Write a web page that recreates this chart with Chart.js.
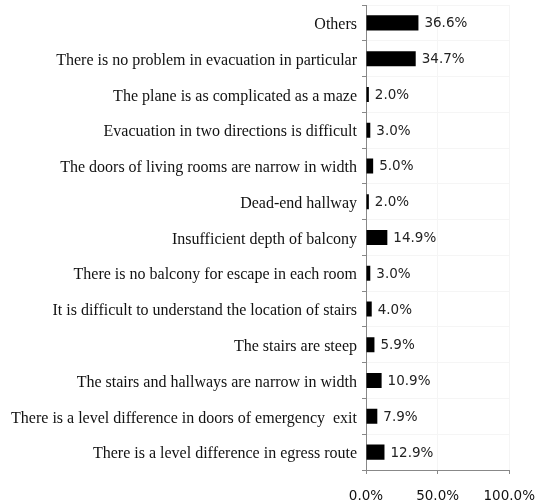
<!DOCTYPE html>
<html>
<head>
<meta charset="utf-8">
<script src="https://cdn.jsdelivr.net/npm/chart.js@4.4.0/dist/chart.umd.min.js"></script>
<style>
html,body{margin:0;padding:0;background:#fff;}
#wrap{width:549px;height:502px;position:relative;}
</style>
</head>
<body>
<div id="wrap"><canvas id="c" width="549" height="502"></canvas></div>
<script>
const categories = [
  "Others",
  "There is no problem in evacuation in particular",
  "The plane is as complicated as a maze",
  "Evacuation in two directions is difficult",
  "The doors of living rooms are narrow in width",
  "Dead-end hallway",
  "Insufficient depth of balcony",
  "There is no balcony for escape in each room",
  "It is difficult to understand the location of stairs",
  "The stairs are steep",
  "The stairs and hallways are narrow in width",
  "There is a level difference in doors of emergency  exit",
  "There is a level difference in egress route"
];
const values = [36.6, 34.7, 2.0, 3.0, 5.0, 2.0, 14.9, 3.0, 4.0, 5.9, 10.9, 7.9, 12.9];
const xTicks = [0, 50, 100];

const valueLabels = {
  id: 'valueLabels',
  afterDatasetsDraw(chart) {
    const ctx = chart.ctx;
    const meta = chart.getDatasetMeta(0);
    ctx.save();
    ctx.font = '13.5px "DejaVu Sans", Verdana, sans-serif';
    ctx.fillStyle = '#222';
    ctx.textAlign = 'left';
    ctx.textBaseline = 'middle';
    meta.data.forEach((bar, i) => {
      ctx.fillText(values[i].toFixed(1) + '%', bar.x + 6, bar.y + 1);
    });
    ctx.restore();
  }
};

new Chart(document.getElementById('c'), {
  type: 'bar',
  data: {
    labels: categories,
    datasets: [{
      data: values,
      backgroundColor: '#000',
      borderWidth: 0,
      barPercentage: 0.42,
      categoryPercentage: 1.0
    }]
  },
  options: {
    indexAxis: 'y',
    responsive: false,
    animation: false,
    devicePixelRatio: 1,
    layout: { padding: { top: 5, right: 39, left: 0, bottom: 0 } },
    plugins: { legend: { display: false }, tooltip: { enabled: false } },
    scales: {
      x: {
        min: 0, max: 100,
        afterBuildTicks(scale) { scale.ticks = xTicks.map(v => ({ value: v })); },
        afterFit(scale) { scale.height = 32; },
        ticks: {
          callback: v => Number(v).toFixed(1) + '%',
          font: { family: '"DejaVu Sans", Verdana, sans-serif', size: 13.5 },
          color: '#111',
          padding: 14,
          maxRotation: 0
        },
        grid: { color: '#f5f5f5', tickColor: '#888', tickLength: 4, drawTicks: true },
        border: { color: '#888', width: 1 }
      },
      y: {
        afterFit(scale) { scale.width = 366; scale.paddingTop = 0; scale.paddingBottom = 0; },
        ticks: {
          font: { family: '"Liberation Serif", "Times New Roman", serif', size: 16 },
          color: '#111',
          padding: 5,
          labelOffset: 2,
          autoSkip: false
        },
        grid: { offset: true, color: '#f5f5f5', tickColor: '#888', tickLength: 4 },
        border: { color: '#888', width: 1 }
      }
    }
  },
  plugins: [valueLabels]
});
</script>
</body>
</html>
